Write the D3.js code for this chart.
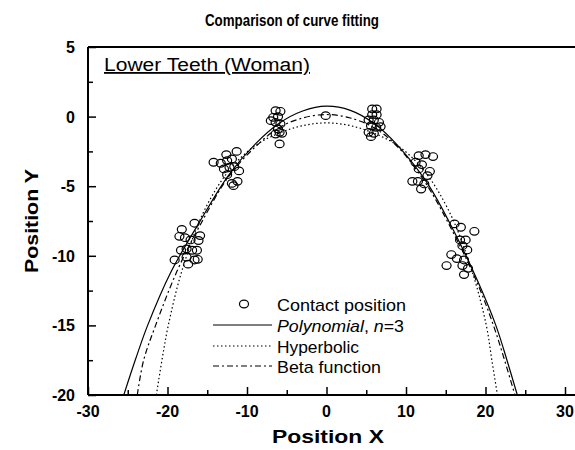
<!DOCTYPE html>
<html>
<head>
<meta charset="utf-8">
<script src="https://cdn.jsdelivr.net/npm/d3@7"></script>
<style>
  body { margin: 0; background: #fff; }
  svg { font-family: Arial, "Liberation Sans", sans-serif; }
</style>
</head>
<body>
<svg id="chart" width="575" height="450"></svg>
<script>
// contact positions, cluster by cluster
const contactX = [
  -16.6, -18.2, -18.5, -17.8, -17.1, -15.9, -16.1, -18.3, -17.6, -16.9, -16.3, -19.1, -17.6, -16.6, -16.2, -17.4,
  -14.2, -13.3, -12.6, -12.5, -11.9, -11.3, -12.9, -12.2, -11.6, -11.0, -12.5, -11.9, -11.2, -11.7,
  -6.4, -5.8, -6.7, -6.1, -7.0, -6.4, -5.8, -6.1, -5.9, -6.4, -5.6, -5.9,
  -0.1,
  5.75, 6.3, 5.75, 6.3, 5.3, 5.95, 6.6, 5.6, 6.25, 6.8, 5.3, 5.95, 5.6,
  11.6, 12.45, 13.4, 11.2, 12.0, 13.0, 10.8, 11.5, 12.3, 11.9, 12.7, 11.6,
  16.1, 16.9, 18.6, 16.8, 17.5, 17.1, 17.7, 15.7, 16.4, 17.3, 15.1, 17.1, 17.8, 17.3
];
const contactY = [
  -7.66, -8.1, -8.6, -8.7, -8.86, -8.55, -8.9, -9.6, -9.5, -9.6, -9.6, -10.3, -10.1, -10.3, -10.25, -10.6,
  -3.28, -3.35, -2.73, -3.16, -3.04, -2.5, -3.76, -3.64, -3.6, -3.9, -4.17, -4.8, -4.65, -4.96,
  0.43, 0.38, -0.05, 0.0, -0.29, -0.41, -0.53, -0.89, -1.13, -1.25, -1.2, -1.96,
  0.07,
  0.55, 0.55, 0.14, 0.14, -0.24, -0.24, -0.41, -0.65, -0.77, -0.72, -1.13, -1.2, -1.44,
  -2.8, -2.73, -2.87, -3.28, -3.45, -3.93, -4.65, -4.65, -4.84, -5.2, -4.24, -3.76,
  -7.71, -7.95, -8.24, -8.86, -8.86, -9.27, -9.58, -9.91, -10.2, -10.3, -10.7, -10.7, -10.9, -11.35
];

// fitted curves
const polyX = [-25.5, -24, -22.5, -19.6, -16, -12.3, -9, -6, -3, 0, 3, 6, 9, 12.7, 16, 19, 21.3, 22.7, 24];
const polyY = [-20, -17.4, -15, -11.2, -7.6, -4.2, -2.0, -0.5, 0.4, 0.75, 0.45, -0.5, -2.1, -4.8, -8.2, -11.8, -15, -17.5, -20];
const hypX = [-21.4, -20.7, -19.9, -18.2, -15.5, -12.3, -9, -6, -3, 0, 3, 6, 9, 12.3, 15.5, 18.3, 20.1, 20.8, 21.5];
const hypY = [-20, -17.5, -15, -11.1, -6.9, -3.9, -2.1, -1.2, -0.65, -0.45, -0.65, -1.2, -2.1, -3.9, -6.9, -11.1, -15, -17.5, -20];
const betaX = [-23.8, -23, -21.5, -18.8, -16, -12.3, -9, -6, -3, 0, 3, 6, 9, 12.5, 16, 19, 21, 22.4, 23.7];
const betaY = [-20, -17.5, -15, -11.1, -7.9, -4.3, -2.2, -0.8, -0.1, 0.15, -0.1, -0.8, -2.2, -4.8, -8.4, -12, -15, -17.5, -20];

const xTicks = [-30, -20, -10, 0, 10, 20, 30];
const yTicks = [5, 0, -5, -10, -15, -20];
const legendLabels = ['Contact position', 'Polynomial', 'Hyperbolic', 'Beta function'];

const svg = d3.select('#chart');
const m = { left: 88, right: 565, top: 47, bottom: 395 };

const x = d3.scaleLinear().domain([-30, 30]).range([m.left, m.right]);
const y = d3.scaleLinear().domain([-20, 5]).range([m.bottom, m.top]);

svg.append('text').attr('x', 292).attr('y', 26).attr('text-anchor', 'middle')
  .attr('textLength', 174).attr('lengthAdjust', 'spacingAndGlyphs')
  .style('font-size', '16.5px').style('font-weight', 'bold').text('Comparison of curve fitting');

const plot = svg.append('g');
const clipId = 'clip';
svg.append('clipPath').attr('id', clipId).append('rect')
  .attr('x', m.left).attr('y', m.top).attr('width', m.right - m.left).attr('height', m.bottom - m.top);

// axes, ticks pointing inward
const xAxis = d3.axisTop(x).tickValues(d3.range(-30, 31, 5)).tickSize(0).tickFormat('');
const gx = plot.append('g').attr('transform', `translate(0,${m.bottom})`).call(xAxis);
gx.select('.domain').remove();
gx.selectAll('.tick line').attr('y2', d => d % 10 === 0 ? -8 : -5).attr('stroke', '#000').attr('stroke-width', 1.5);

const yAxis = d3.axisRight(y).tickValues(d3.range(-20, 5.1, 2.5)).tickSize(0).tickFormat('');
const gy = plot.append('g').attr('transform', `translate(${m.left},0)`).call(yAxis);
gy.select('.domain').remove();
gy.selectAll('.tick line').attr('x2', d => d % 5 === 0 ? 8 : 5).attr('stroke', '#000').attr('stroke-width', 1.5);

plot.append('line').attr('x1', m.left).attr('x2', m.left).attr('y1', m.top).attr('y2', m.bottom)
  .attr('stroke', '#000').attr('stroke-width', 2);
plot.append('line').attr('x1', m.left).attr('x2', 575).attr('y1', m.bottom).attr('y2', m.bottom)
  .attr('stroke', '#000').attr('stroke-width', 2);
plot.append('line').attr('x1', m.left).attr('x2', 575).attr('y1', m.top).attr('y2', m.top)
  .attr('stroke', '#000').attr('stroke-width', 2);

// tick labels
svg.append('g').selectAll('text').data(xTicks).enter().append('text')
  .attr('x', d => x(d)).attr('y', m.bottom + 22).attr('text-anchor', 'middle')
  .style('font-size', '16px').style('font-weight', 'bold').text(d => d);
svg.append('g').selectAll('text').data(yTicks).enter().append('text')
  .attr('x', m.left - 13).attr('y', d => y(d) + 6).attr('text-anchor', 'end')
  .style('font-size', '16px').style('font-weight', 'bold').text(d => d);

svg.append('text').attr('x', 328).attr('y', 443).attr('text-anchor', 'middle')
  .attr('textLength', 112).attr('lengthAdjust', 'spacingAndGlyphs')
  .style('font-size', '18px').style('font-weight', 'bold').text('Position X');
svg.append('text').attr('transform', `translate(38,${(m.top + m.bottom) / 2}) rotate(-90)`)
  .attr('text-anchor', 'middle').attr('textLength', 104).attr('lengthAdjust', 'spacingAndGlyphs')
  .style('font-size', '18px').style('font-weight', 'bold').text('Position Y');

svg.append('text').attr('x', 104).attr('y', 71).style('font-size', '18px')
  .attr('textLength', 206).attr('lengthAdjust', 'spacingAndGlyphs')
  .style('text-decoration', 'underline').text('Lower Teeth (Woman)');

// curves
const curves = [
  { xs: polyX, ys: polyY, dash: null },
  { xs: hypX, ys: hypY, dash: '1.5,2.5' },
  { xs: betaX, ys: betaY, dash: '6,3,2,3' }
];
const line = d3.line().x(d => x(d[0])).y(d => y(d[1])).curve(d3.curveCatmullRom);
const cg = svg.append('g').attr('clip-path', `url(#${clipId})`);
curves.forEach(c => {
  cg.append('path').datum(d3.zip(c.xs, c.ys)).attr('d', line)
    .attr('fill', 'none').attr('stroke', '#000').attr('stroke-width', 1.2)
    .attr('stroke-dasharray', c.dash);
});

// contact points
cg.selectAll('ellipse').data(d3.zip(contactX, contactY)).enter().append('ellipse')
  .attr('cx', d => x(d[0])).attr('cy', d => y(d[1])).attr('rx', 4.5).attr('ry', 3.8)
  .attr('fill', 'none').attr('stroke', '#000').attr('stroke-width', 1.2);

// legend
const lg = svg.append('g').style('font-size', '17px');
const ly = [311, 332, 353, 373];
const lw = [129, 127, 82, 104];
lg.append('ellipse').attr('cx', 244).attr('cy', ly[0] - 7).attr('rx', 4.5).attr('ry', 3.8)
  .attr('fill', 'none').attr('stroke', '#000').attr('stroke-width', 1.2);
[null, '1.5,2.5', '6,3,2,3'].forEach((dash, i) => {
  lg.append('line').attr('x1', 213).attr('x2', 272).attr('y1', ly[i + 1] - 7).attr('y2', ly[i + 1] - 7)
    .attr('stroke', '#000').attr('stroke-width', 1.2).attr('stroke-dasharray', dash);
});
legendLabels.forEach((t, i) => {
  const tx = lg.append('text').attr('x', 277).attr('y', ly[i])
    .attr('textLength', lw[i]).attr('lengthAdjust', 'spacingAndGlyphs');
  if (i === 1) {
    tx.append('tspan').style('font-style', 'italic').text('Polynomial');
    tx.append('tspan').text(', ');
    tx.append('tspan').style('font-style', 'italic').text('n');
    tx.append('tspan').text('=3');
  } else {
    tx.text(t);
  }
});
</script>
</body>
</html>
